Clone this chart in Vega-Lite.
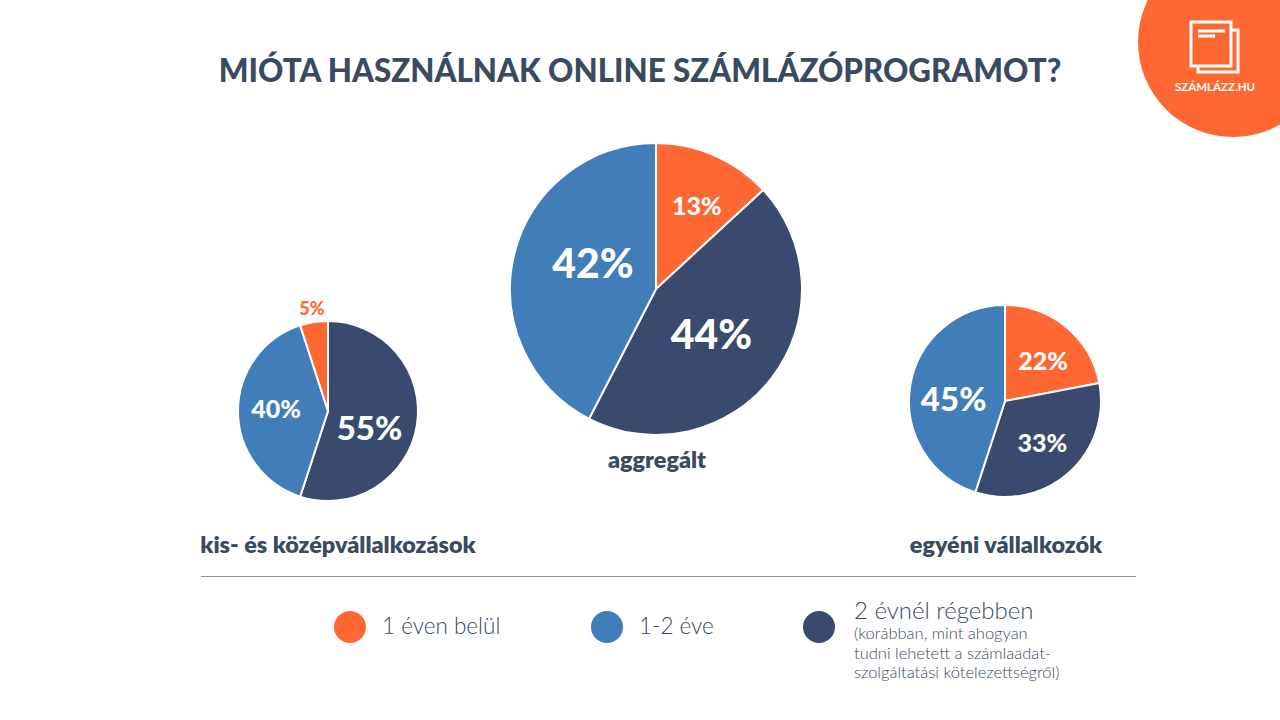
{
  "$schema": "https://vega.github.io/schema/vega-lite/v6.json",
  "width": 1280,
  "height": 720,
  "padding": 0,
  "autosize": {"type": "none"},
  "background": "white",
  "encoding": {
    "x": {
      "field": "elem",
      "type": "quantitative",
      "axis": null,
      "scale": {
        "domain": [1,2,3,4,5,6,7,8,9,10,11,12,13,14,15,16,17,18,19,20,21,22,23,24,25,26,27,28],
        "range": [328,656,1005,338,657,1006,350,607,819,382,639,854,854,854,854,201,1136,1233,1198,1238,1191,1231,1198,1225,1198,1215,1215,640]
      }
    },
    "y": {
      "field": "elem",
      "type": "quantitative",
      "axis": null,
      "scale": {
        "domain": [1,2,3,4,5,6,7,8,9,10,11,12,13,14,15,16,17,18,19,20,21,22,23,24,25,26,27,28],
        "range": [411,289,401,546,461,546,627,627,627,627,627,612,634,654,673,576.5,576.5,42,30,72,22,66,31,31,36,36,88,72.5]
      }
    }
  },
  "layer": [
    {
      "data": {"values": [{"elem": 28, "szoveg": "MIÓTA HASZNÁLNAK ONLINE SZÁMLÁZÓPROGRAMOT?"}]},
      "mark": {"type": "text", "font": "Lato", "fontWeight": 900, "fontSize": 31.3, "color": "#3A4A5F"},
      "encoding": {"text": {"field": "szoveg"}}
    },
    {
      "data": {"values": [
        {"elem": 1, "idotartam": "2 évnél régebben", "ertek": 0.55, "sorrend": 1},
        {"elem": 1, "idotartam": "1-2 éve", "ertek": 0.40, "sorrend": 2},
        {"elem": 1, "idotartam": "1 éven belül", "ertek": 0.05, "sorrend": 3}
      ]},
      "encoding": {
        "theta": {"field": "ertek", "type": "quantitative", "stack": "normalize"},
        "order": {"field": "sorrend"},
        "detail": {"field": "idotartam"}
      },
      "layer": [
        {
          "mark": {"type": "arc", "outerRadius": 90, "stroke": "white", "strokeWidth": 2},
          "encoding": {
            "color": {
              "field": "idotartam",
              "type": "nominal",
              "legend": null,
              "scale": {"domain": ["1 éven belül", "1-2 éve", "2 évnél régebben"], "range": ["#FF6833", "#407DB9", "#3A4A6E"]}
            }
          }
        },
        {
          "mark": {
            "type": "text",
            "font": "Lato",
            "fontWeight": 900,
            "radius": {"expr": "datum.ertek == 0.05 ? 103 : datum.ertek == 0.55 ? 42 : 52"},
            "fontSize": {"expr": "datum.ertek == 0.05 ? 18 : datum.ertek == 0.55 ? 33 : 25"},
            "dy": {"expr": "datum.ertek == 0.55 ? 12 : datum.ertek == 0.05 ? 1 : -1"}
          },
          "encoding": {
            "text": {"field": "ertek", "type": "quantitative", "format": ".0%"},
            "color": {"condition": {"test": "datum.ertek == 0.05", "value": "#FF6833"}, "value": "white"}
          }
        }
      ]
    },
    {
      "data": {"values": [
        {"elem": 2, "idotartam": "1 éven belül", "ertek": 0.13, "sorrend": 1},
        {"elem": 2, "idotartam": "2 évnél régebben", "ertek": 0.44, "sorrend": 2},
        {"elem": 2, "idotartam": "1-2 éve", "ertek": 0.42, "sorrend": 3}
      ]},
      "encoding": {
        "theta": {"field": "ertek", "type": "quantitative", "stack": "normalize"},
        "order": {"field": "sorrend"},
        "detail": {"field": "idotartam"}
      },
      "layer": [
        {
          "mark": {"type": "arc", "outerRadius": 146, "stroke": "white", "strokeWidth": 2},
          "encoding": {"color": {"field": "idotartam", "type": "nominal", "legend": null}}
        },
        {
          "mark": {
            "type": "text",
            "font": "Lato",
            "fontWeight": 900,
            "color": "white",
            "radius": {"expr": "datum.ertek == 0.13 ? 92 : datum.ertek == 0.44 ? 71 : 67"},
            "fontSize": {"expr": "datum.ertek == 0.13 ? 25 : 41"},
            "dx": {"expr": "datum.ertek == 0.13 ? 4 : datum.ertek == 0.42 ? 2 : -1"},
            "dy": {"expr": "datum.ertek == 0.13 ? 2 : datum.ertek == 0.42 ? -7 : 5"}
          },
          "encoding": {"text": {"field": "ertek", "type": "quantitative", "format": ".0%"}}
        }
      ]
    },
    {
      "data": {"values": [
        {"elem": 3, "idotartam": "1 éven belül", "ertek": 0.22, "sorrend": 1},
        {"elem": 3, "idotartam": "2 évnél régebben", "ertek": 0.33, "sorrend": 2},
        {"elem": 3, "idotartam": "1-2 éve", "ertek": 0.45, "sorrend": 3}
      ]},
      "encoding": {
        "theta": {"field": "ertek", "type": "quantitative", "stack": "normalize"},
        "order": {"field": "sorrend"},
        "detail": {"field": "idotartam"}
      },
      "layer": [
        {
          "mark": {"type": "arc", "outerRadius": 96, "stroke": "white", "strokeWidth": 2},
          "encoding": {"color": {"field": "idotartam", "type": "nominal", "legend": null}}
        },
        {
          "mark": {
            "type": "text",
            "font": "Lato",
            "fontWeight": 900,
            "color": "white",
            "radius": {"expr": "datum.ertek == 0.45 ? 52 : 55"},
            "fontSize": {"expr": "datum.ertek == 0.45 ? 33 : 25"},
            "dx": {"expr": "datum.ertek == 0.22 ? 3 : datum.ertek == 0.33 ? 1 : 0"},
            "dy": {"expr": "datum.ertek == 0.22 ? 3 : datum.ertek == 0.33 ? 2 : 8"}
          },
          "encoding": {"text": {"field": "ertek", "type": "quantitative", "format": ".0%"}}
        }
      ]
    },
    {
      "data": {"values": [
        {"elem": 4, "szoveg": "kis- és középvállalkozások"},
        {"elem": 5, "szoveg": "aggregált"},
        {"elem": 6, "szoveg": "egyéni vállalkozók"}
      ]},
      "mark": {"type": "text", "font": "Lato", "fontWeight": 800, "fontSize": 23.4, "color": "#3A4A5F"},
      "encoding": {"text": {"field": "szoveg"}}
    },
    {
      "data": {"values": [{"elem": 16, "elem2": 17}]},
      "mark": {"type": "rule", "color": "#8C93A8", "strokeWidth": 1},
      "encoding": {"x2": {"field": "elem2"}}
    },
    {
      "data": {"values": [
        {"elem": 7, "idotartam": "1 éven belül"},
        {"elem": 8, "idotartam": "1-2 éve"},
        {"elem": 9, "idotartam": "2 évnél régebben"}
      ]},
      "mark": {"type": "point", "shape": "circle", "filled": true, "opacity": 1, "size": 1024},
      "encoding": {"color": {"field": "idotartam", "type": "nominal", "legend": null}}
    },
    {
      "data": {"values": [
        {"elem": 10, "szoveg": "1 éven belül"},
        {"elem": 11, "szoveg": "1-2 éve"},
        {"elem": 12, "szoveg": "2 évnél régebben"}
      ]},
      "mark": {
        "type": "text",
        "font": "Lato",
        "fontWeight": 300,
        "fontSize": {"expr": "datum.elem == 12 ? 24 : 22.5"},
        "align": "left",
        "color": "#3A4A5F"
      },
      "encoding": {"text": {"field": "szoveg"}}
    },
    {
      "data": {"values": [
        {"elem": 13, "szoveg": "(korábban, mint ahogyan"},
        {"elem": 14, "szoveg": "tudni lehetett a számlaadat-"},
        {"elem": 15, "szoveg": "szolgáltatási kötelezettségről)"}
      ]},
      "mark": {"type": "text", "font": "Lato", "fontWeight": 300, "fontSize": 16.5, "align": "left", "color": "#3A4A5F"},
      "encoding": {"text": {"field": "szoveg"}}
    },
    {
      "data": {"values": [{"elem": 18}]},
      "mark": {"type": "point", "shape": "circle", "filled": true, "opacity": 1, "size": 36100, "color": "#FF6833"}
    },
    {
      "data": {"values": [
        {"elem": 19, "elem2": 20},
        {"elem": 21, "elem2": 22}
      ]},
      "mark": {"type": "rect", "fill": "#FF6833", "stroke": "white", "strokeWidth": 3},
      "encoding": {"x2": {"field": "elem2"}, "y2": {"field": "elem2"}}
    },
    {
      "data": {"values": [
        {"elem": 23, "elem2": 24},
        {"elem": 25, "elem2": 26}
      ]},
      "mark": {"type": "rule", "color": "white", "strokeWidth": 3},
      "encoding": {"x2": {"field": "elem2"}}
    },
    {
      "data": {"values": [{"elem": 27, "szoveg": "SZÁMLÁZZ.HU"}]},
      "mark": {"type": "text", "font": "Lato", "fontWeight": 700, "fontSize": 11.5, "color": "white"},
      "encoding": {"text": {"field": "szoveg"}}
    }
  ],
  "config": {"view": {"stroke": null}}
}
